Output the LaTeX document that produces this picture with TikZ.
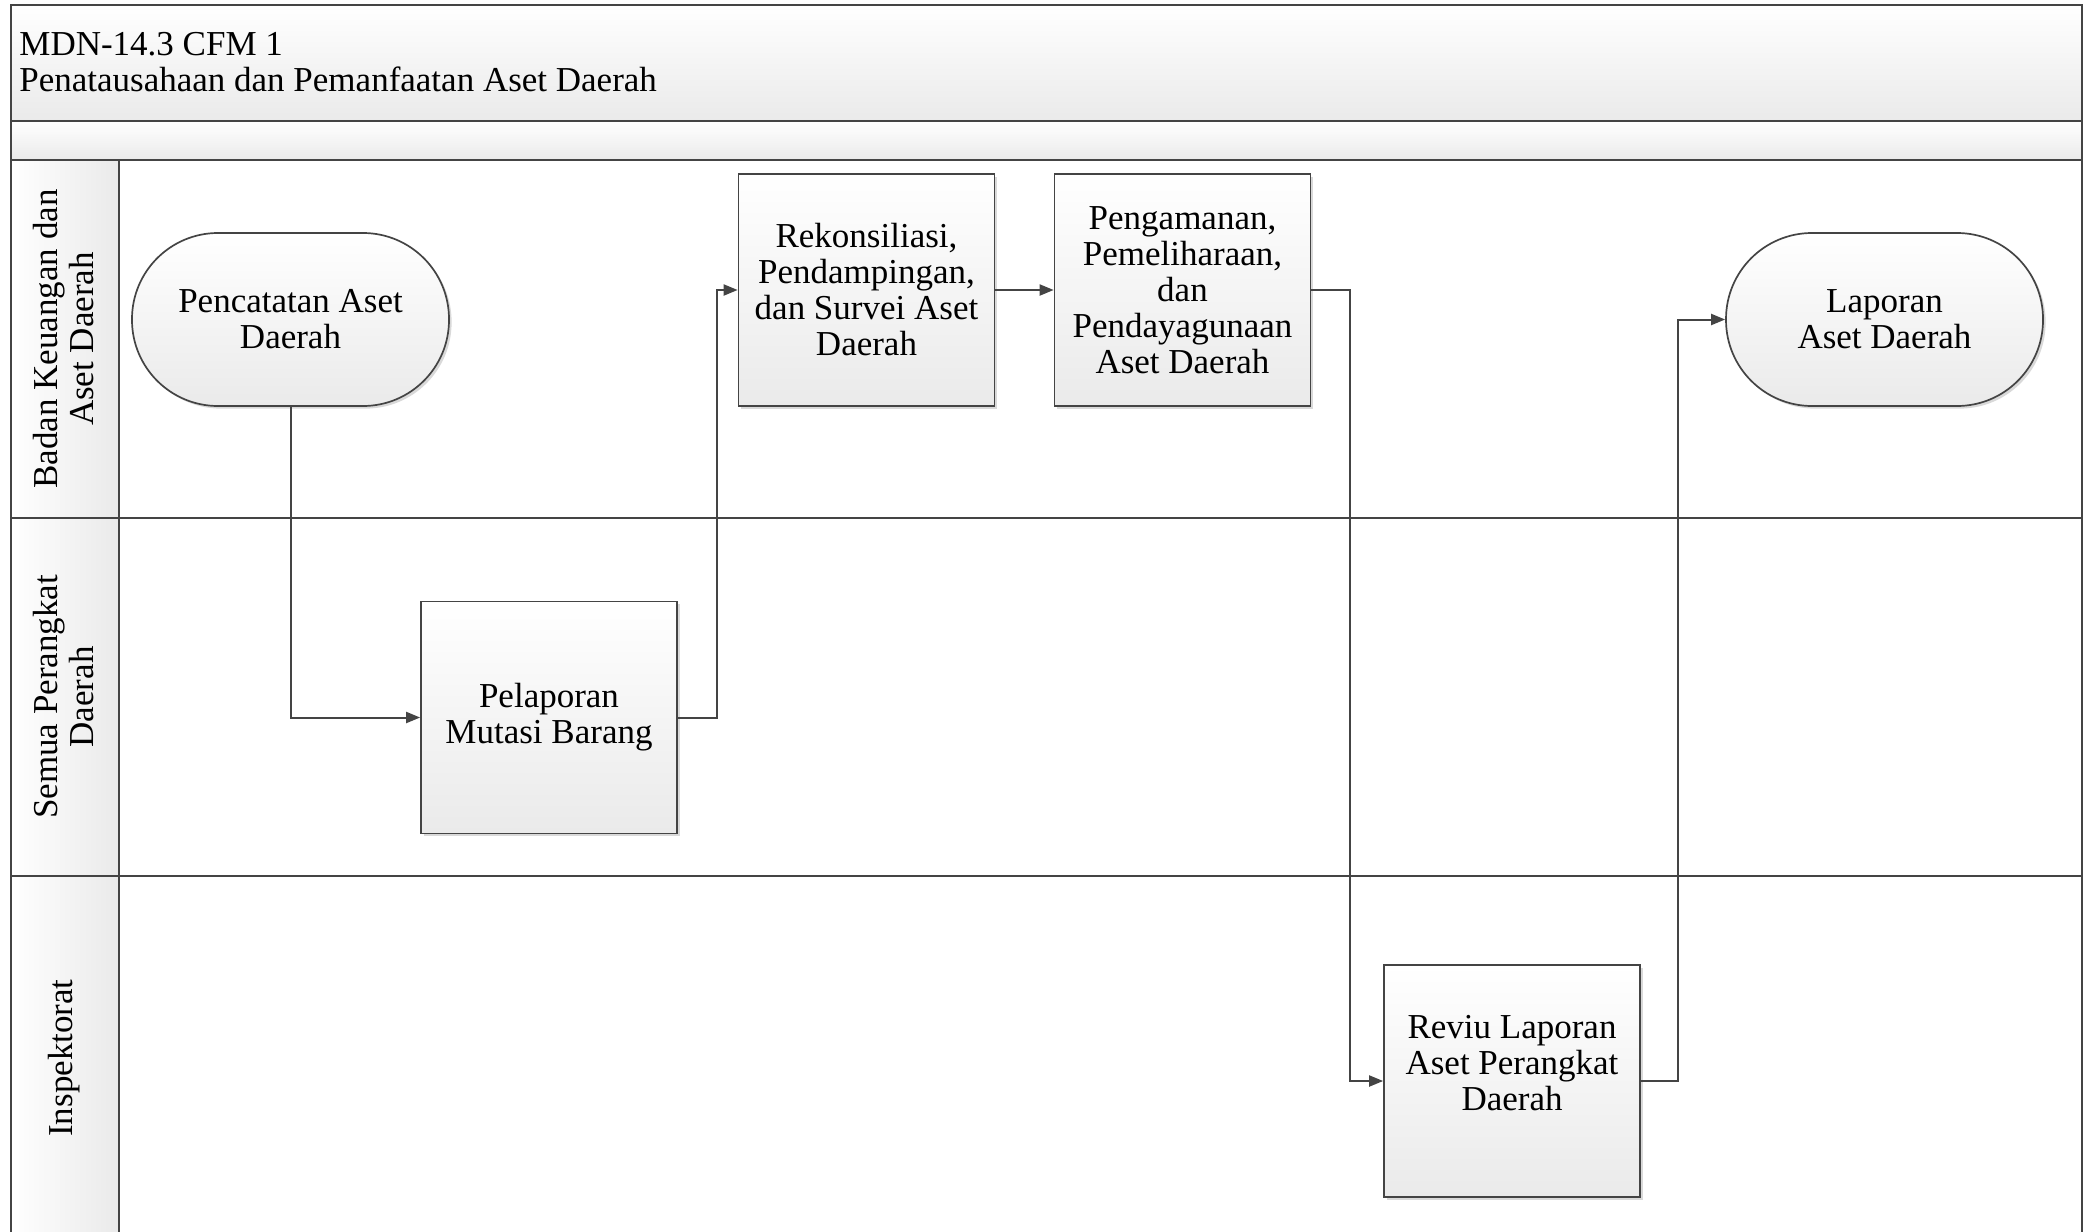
\documentclass[tikz,border=0pt]{standalone}
\usepackage{fontspec}
\setmainfont{Liberation Serif}
\usetikzlibrary{arrows.meta,shadows}
\definecolor{linec}{RGB}{68,68,68}
\definecolor{fillb}{RGB}{234,234,234}
\tikzset{
  txt/.style={font=\fontsize{17.5pt}{18pt}\selectfont},
  proc/.style={txt, draw=linec, line width=0.85pt, top color=white, bottom color=fillb,
    minimum width=128pt, minimum height=116pt, align=center, inner sep=2pt,
    drop shadow={shadow xshift=1.3pt, shadow yshift=-1.3pt, fill=black, opacity=0.15}},
  term/.style={txt, draw=linec, line width=0.85pt, top color=white, bottom color=fillb,
    minimum width=158.5pt, minimum height=86.5pt, rounded corners=43pt, align=center, inner sep=2pt,
    drop shadow={shadow xshift=1.3pt, shadow yshift=-1.3pt, fill=black, opacity=0.15}},
  conn/.style={draw=linec, line width=1pt, -{Triangle[length=7pt,width=5.5pt]}},
  frame/.style={draw=linec, line width=1pt},
  lanelabel/.style={txt, rotate=90, align=center, inner sep=0pt},
}
\begin{document}
\begin{tikzpicture}[x=0.5pt,y=-0.5pt]
\useasboundingbox (0,0) rectangle (2087,1231);
% bands and lane headers
\path[top color=white, bottom color=fillb] (10.6,5.3) rectangle (2081.7,121);
\path[top color=white, bottom color=fillb] (10.6,121) rectangle (2081.7,160);
\path[left color=white, right color=fillb] (10.6,160) rectangle (118.5,1245);
\draw[frame] (10.6,5.3) rectangle (2081.7,1245);
\draw[frame] (10.6,121) -- (2081.7,121);
\draw[frame] (10.6,160) -- (2081.7,160);
\draw[frame] (118.5,160) -- (118.5,1245);
\draw[frame] (10.6,518) -- (2081.7,518);
\draw[frame] (10.6,876) -- (2081.7,876);
% title
\node[txt, anchor=west, align=left, inner sep=0pt] (title) at (19,62)
  {MDN-14.3 CFM 1\\Penatausahaan dan Pemanfaatan Aset Daerah};
% lane labels
\node[lanelabel] (lane1) at (64,339) {Badan Keuangan dan\\Aset Daerah};
\node[lanelabel] (lane2) at (64,697) {Semua Perangkat\\Daerah};
\node[lanelabel] (lane3) at (64,1058) {Inspektorat};
% shapes
\node[term] (pencatatan) at (290.5,319.5) {Pencatatan Aset\\Daerah};
\node[proc] (rekon) at (866.5,290) {Rekonsiliasi,\\Pendampingan,\\dan Survei Aset\\Daerah};
\node[proc] (pengam) at (1182.5,290) {Pengamanan,\\Pemeliharaan,\\dan\\Pendayagunaan\\Aset Daerah};
\node[term] (laporan) at (1884.5,319.5) {Laporan\\Aset Daerah};
\node[proc] (pelaporan) at (549,717.5) {Pelaporan\\Mutasi Barang};
\node[proc] (reviu) at (1512,1081) {Reviu Laporan\\Aset Perangkat\\Daerah\\\mbox{}};
% connectors
\draw[conn] (pencatatan.south) |- (pelaporan.west);
\draw[conn] (pelaporan.east) -- ++(39,0) |- (rekon.west);
\draw[conn] (rekon.east) -- (pengam.west);
\draw[conn] (pengam.east) -- ++(39,0) |- (reviu.west);
\draw[conn] (reviu.east) -- ++(37,0) |- (laporan.west);
\end{tikzpicture}
\end{document}
